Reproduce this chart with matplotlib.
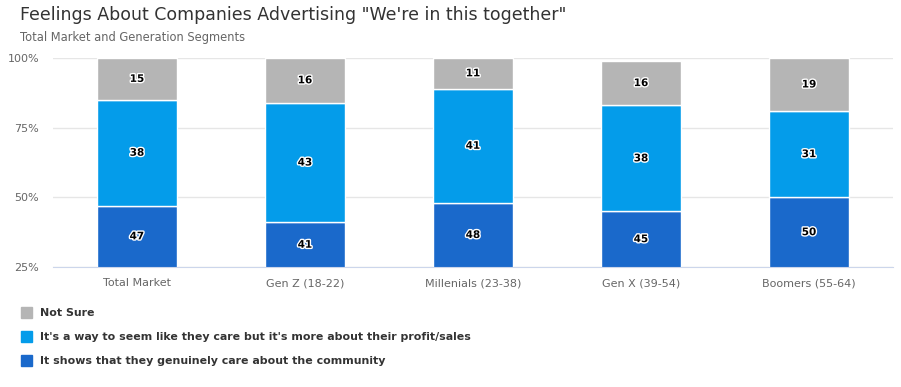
import matplotlib.pyplot as plt
import matplotlib.patheffects as pe
import numpy as np

categories = ['Total Market', 'Gen Z (18-22)', 'Millenials (23-38)', 'Gen X (39-54)', 'Boomers (55-64)']
genuine = [47, 41, 48, 45, 50]
profit = [38, 43, 41, 38, 31]
not_sure = [15, 16, 11, 16, 19]
series_names = ['Not Sure',
                "It's a way to seem like they care but it's more about their profit/sales",
                'It shows that they genuinely care about the community']
yticks = [25, 50, 75, 100]

colors = {'gen': '#1a69cb', 'prof': '#049cea', 'ns': '#b5b5b5'}

fig = plt.figure(figsize=(9.01, 3.87), dpi=100)
ax = fig.add_axes([53/901, 1-267/387, 840/901, 209/387])

x = np.arange(len(categories))
w = 0.476
stroke = [pe.withStroke(linewidth=2, foreground='white')]

bottom = np.zeros(len(categories))
for vals, c in [(genuine, colors['gen']), (profit, colors['prof']), (not_sure, colors['ns'])]:
    ax.bar(x, vals, w, bottom=bottom, color=c, edgecolor='white', linewidth=1, zorder=2)
    for xi, b, v in zip(x, bottom, vals):
        # label sits in the middle of the visible part of the segment
        lo = max(b, 25)
        mid = (lo + b + v) / 2
        ax.text(xi, mid, str(v), ha='center', va='center', fontsize=7.5, fontweight='bold',
                color='black', path_effects=stroke, zorder=3)
    bottom = bottom + np.array(vals)

ax.set_xlim(-0.5, len(categories)-0.5)
ax.set_ylim(25, 100)
ax.set_yticks(yticks)
ax.set_yticklabels([f'{t}%' for t in yticks])
ax.set_xticks(x)
ax.set_xticklabels(categories)
ax.tick_params(axis='both', length=0, labelsize=8, colors='#666666')
ax.tick_params(axis='x', pad=8)
ax.tick_params(axis='y', pad=10)
ax.grid(axis='y', color='#e6e6e6', linewidth=1, zorder=0)
for s in ['top', 'right', 'left']:
    ax.spines[s].set_visible(False)
ax.spines['bottom'].set_color('#ccd6eb')
ax.set_axisbelow(True)

fig.text(20/901, 1-15/387, 'Feelings About Companies Advertising "We\'re in this together"',
         fontsize=12.5, color='#333333', va='center', ha='left')
fig.text(20/901, 1-38/387, 'Total Market and Generation Segments',
         fontsize=8.3, color='#666666', va='center', ha='left')

legend_colors = [colors['ns'], colors['prof'], colors['gen']]
legend_y = [313, 337, 361]
for name, c, yy in zip(series_names, legend_colors, legend_y):
    fig.patches.append(plt.Rectangle((21/901, 1-(yy+5)/387), 11/901, 11/387,
                                     transform=fig.transFigure, color=c, figure=fig))
    fig.text(40/901, 1-yy/387, name, fontsize=7.9, fontweight='bold', color='#333333',
             va='center', ha='left')

fig.savefig('out.png', dpi=100)
